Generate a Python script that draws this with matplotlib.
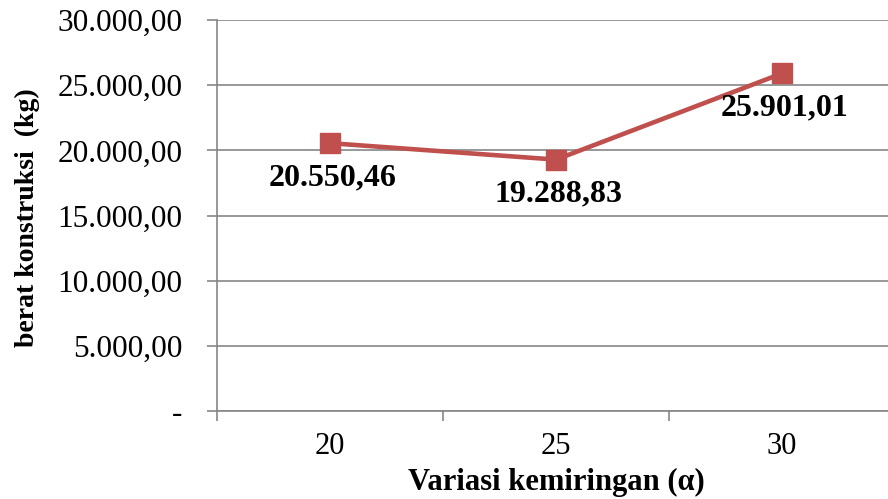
import matplotlib
matplotlib.use('Agg')
import matplotlib.pyplot as plt

plt.rcParams['font.family'] = ['Liberation Serif', 'DejaVu Serif']

# data
kemiringan = ['20', '25', '30']
berat = [20550.46, 19288.83, 25901.01]
label_berat = ['20.550,46', '19.288,83', '25.901,01']
y_ticks = [0, 5000, 10000, 15000, 20000, 25000, 30000]
y_ticklabels = ['-', '5.000,00', '10.000,00', '15.000,00', '20.000,00', '25.000,00', '30.000,00']

W, H = 888, 499
fig = plt.figure(figsize=(W / 100, H / 100), dpi=100)
ax = fig.add_axes([217 / W, (H - 411) / H, (895 - 217) / W, (411 - 20) / H])

x = list(range(1, len(kemiringan) + 1))
ax.plot(x, berat, color='#C0504D', lw=3.3, marker='s', ms=14, zorder=3)

# data labels below each point
for xi, yi, t in zip(x, berat, label_berat):
    ax.annotate(t, (xi, yi), xytext=(2, -25), textcoords='offset points',
                ha='center', va='center', fontsize=23, fontweight='bold')

ax.set_xlim(0.5, 3.5)
ax.set_ylim(0, 30000)
ax.set_yticks(y_ticks)
ax.set_yticklabels(y_ticklabels, fontsize=22.5)
ax.set_xticks(x)
ax.set_xticklabels(kemiringan, fontsize=22)
ax.set_xticks([0.5, 1.5, 2.5, 3.5], minor=True)
ax.tick_params(axis='x', which='major', length=0, pad=15)
ax.tick_params(axis='x', which='minor', length=7, width=1.2, color='#868686')
ax.tick_params(axis='y', length=7, width=1.2, color='#868686', pad=18)

ax.grid(axis='y', color='#868686', lw=1.2)
ax.set_axisbelow(True)
for s in ['top', 'right']:
    ax.spines[s].set_visible(False)
for s in ['left', 'bottom']:
    ax.spines[s].set_color('#868686')
    ax.spines[s].set_linewidth(1.2)

ax.set_xlabel('Variasi kemiringan (α)', fontsize=22, fontweight='bold', va='center')
ax.xaxis.set_label_coords(0.5, -0.182)
ax.set_ylabel('berat konstruksi  (kg)', fontsize=20, fontweight='bold', va='center')
ax.yaxis.set_label_coords(-0.279, 0.494)

fig.savefig('out.png', dpi=100)
